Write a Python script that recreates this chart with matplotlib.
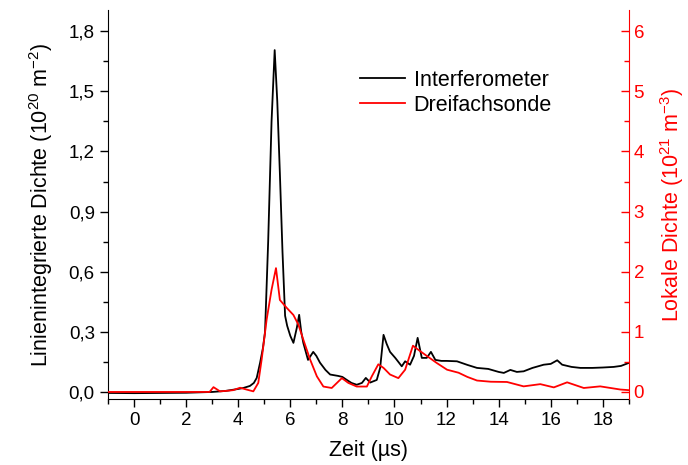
import matplotlib
matplotlib.use("Agg")
import matplotlib.pyplot as plt
from matplotlib.ticker import MultipleLocator

plt.rcParams['font.family'] = ['Liberation Sans', 'DejaVu Sans']
plt.rcParams['mathtext.default'] = 'regular'

# Interferometer: line integrated density (1e20 m^-2), left axis
black_t = [-1, 0, 1, 2, 3, 3.5, 4.0, 4.2, 4.45, 4.6, 4.71, 4.84, 4.95, 5.03,
           5.15, 5.28, 5.40, 5.5, 5.60, 5.70, 5.80, 5.88, 6.0, 6.12, 6.25,
           6.34, 6.42, 6.5, 6.68, 6.88, 7.0, 7.14, 7.35, 7.53, 7.84, 8.0,
           8.17, 8.35, 8.55, 8.75, 8.9, 9.07, 9.32, 9.45, 9.58, 9.7, 9.83,
           10.03, 10.15, 10.28, 10.41, 10.6, 10.75, 10.89, 11.05, 11.24,
           11.4, 11.57, 11.8, 12.0, 12.4, 12.8, 13.17, 13.6, 14.0, 14.2,
           14.45, 14.7, 14.96, 15.3, 15.73, 16.0, 16.25, 16.44, 16.8, 17.14,
           17.6, 18.0, 18.42, 18.7, 19.0]
black_n = [-0.005, -0.006, -0.005, -0.004, 0.0, 0.005, 0.015, 0.02, 0.03,
           0.045, 0.07, 0.146, 0.22, 0.30, 0.75, 1.35, 1.706, 1.45, 1.09,
           0.70, 0.38, 0.33, 0.28, 0.245, 0.32, 0.385, 0.30, 0.245, 0.16,
           0.20, 0.18, 0.146, 0.11, 0.087, 0.08, 0.075, 0.06, 0.045, 0.036,
           0.045, 0.07, 0.047, 0.06, 0.12, 0.285, 0.24, 0.20, 0.17, 0.15,
           0.128, 0.153, 0.136, 0.18, 0.27, 0.17, 0.17, 0.20, 0.16, 0.155,
           0.155, 0.153, 0.135, 0.12, 0.115, 0.10, 0.095, 0.11, 0.10, 0.103,
           0.12, 0.136, 0.14, 0.158, 0.136, 0.125, 0.12, 0.12, 0.122, 0.125,
           0.13, 0.145]

# Triple probe: local density (1e21 m^-3), right axis
red_t = [-1, 2, 2.9, 3.05, 3.3, 3.6, 3.81, 4.07, 4.32, 4.58, 4.77, 4.9,
         5.09, 5.28, 5.45, 5.6, 5.86, 6.12, 6.31, 6.5, 6.76, 7.02, 7.27,
         7.59, 7.98, 8.23, 8.55, 8.94, 9.13, 9.38, 9.58, 9.83, 10.15, 10.41,
         10.71, 10.92, 11.24, 11.63, 12.02, 12.46, 12.8, 13.17, 13.7, 14.32,
         14.96, 15.6, 16.12, 16.63, 17.27, 17.9, 18.68, 19.0]
red_n = [0.0, 0.0, 0.0, 0.08, 0.01, 0.02, 0.03, 0.07, 0.04, 0.01, 0.15,
         0.54, 1.2, 1.70, 2.06, 1.53, 1.40, 1.28, 1.12, 0.87, 0.54, 0.26,
         0.09, 0.066, 0.23, 0.15, 0.09, 0.09, 0.26, 0.46, 0.40, 0.29, 0.23,
         0.37, 0.77, 0.70, 0.60, 0.48, 0.37, 0.32, 0.25, 0.19, 0.17, 0.166,
         0.093, 0.13, 0.076, 0.16, 0.066, 0.093, 0.04, 0.03]

left_ticks = [0.0, 0.3, 0.6, 0.9, 1.2, 1.5, 1.8]
left_labels = ["0,0", "0,3", "0,6", "0,9", "1,2", "1,5", "1,8"]
right_ticks = [0, 1, 2, 3, 4, 5, 6]
x_ticks = [0, 2, 4, 6, 8, 10, 12, 14, 16, 18]

fig = plt.figure(figsize=(6.88, 4.65), dpi=100)
ax = fig.add_axes([0.157, 0.142, 0.757, 0.836])
ax2 = ax.twinx()

l1, = ax.plot(black_t, black_n, color='black', lw=1.3, label='Interferometer')
l2, = ax2.plot(red_t, red_n, color='red', lw=1.3, label='Dreifachsonde')

ax.set_xlim(-1, 19)
ax.set_ylim(-0.035, 1.905)
ax2.set_ylim(-0.1167, 6.35)

ax.set_xticks(x_ticks)
ax.xaxis.set_minor_locator(MultipleLocator(1))
ax.set_yticks(left_ticks)
ax.set_yticklabels(left_labels)
ax.yaxis.set_minor_locator(MultipleLocator(0.15))
ax2.set_yticks(right_ticks)
ax2.yaxis.set_minor_locator(MultipleLocator(0.5))

ax.tick_params(axis='both', which='major', direction='out', length=6,
               labelsize=13.5, width=1)
ax.tick_params(axis='both', which='minor', direction='out', length=3.5, width=1)
ax2.tick_params(axis='y', which='major', direction='in', length=6,
                labelsize=13.5, colors='red', width=1)
ax2.tick_params(axis='y', which='minor', direction='in', length=3.5,
                colors='red', width=1)

for a in (ax, ax2):
    a.spines['top'].set_visible(False)
ax.spines['right'].set_visible(False)
ax2.spines['right'].set_color('red')
ax2.spines['left'].set_visible(False)
ax2.spines['bottom'].set_visible(False)

ax.set_xlabel('Zeit (µs)', fontsize=15.5, labelpad=8)
ax.set_ylabel('Linienintegrierte Dichte (10$^{20}$ m$^{-2}$)', fontsize=15.5,
              labelpad=10)
ax2.set_ylabel('Lokale Dichte (10$^{21}$ m$^{-3}$)', fontsize=15.5, color='red',
               labelpad=10)

ax.legend(handles=[l1, l2], loc='upper left', bbox_to_anchor=(0.463, 0.875),
          frameon=False, fontsize=15.5, handlelength=2.1, handletextpad=0.4,
          labelspacing=0.2, borderpad=0)

fig.savefig('out.png', dpi=100)
